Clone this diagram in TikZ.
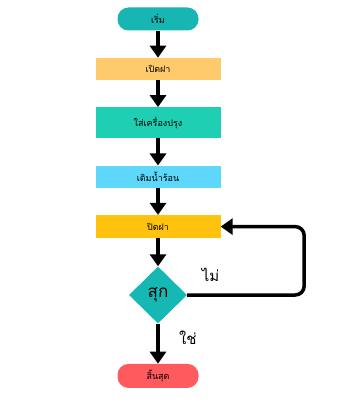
\documentclass[tikz,border=0pt]{standalone}
\usepackage{fontspec}
\newfontfamily\thaifont[Script=Thai]{Loma}
\usepackage{xcolor}
\usetikzlibrary{positioning,arrows.meta,shapes.geometric}

\definecolor{startc}{HTML}{17B6B3}
\definecolor{openc}{HTML}{FFCA6C}
\definecolor{seasonc}{HTML}{1ECFB3}
\definecolor{waterc}{HTML}{5DD7FA}
\definecolor{closec}{HTML}{FFC20E}
\definecolor{checkc}{HTML}{16B8B4}
\definecolor{endc}{HTML}{FF5B5E}

\begin{document}
\begin{tikzpicture}[
    x=1pt, y=-1pt,
    node distance=27pt,
    box/.style={draw=none, minimum width=125pt, minimum height=22pt,
                align=center, font=\thaifont\fontsize{9}{11}\selectfont},
    pill/.style={box, rounded corners=11pt, minimum width=81pt, minimum height=23pt},
    decide/.style={diamond, draw=none, inner sep=0pt, minimum width=58pt,
                   minimum height=57pt, font=\thaifont\fontsize{17}{19}\selectfont},
    arr/.style={-{Triangle[width=16pt,length=12pt]}, line width=3.5pt},
    lbl/.style={font=\thaifont\fontsize{15}{17}\selectfont},
  ]
  \useasboundingbox (0,0) rectangle (354,403);

  \node[pill, fill=startc] at (158,19) (start) {เริ่ม};
  \node[box, fill=openc,   below=of start]  (open)   {เปิดฝา};
  \node[box, fill=seasonc, below=of open, minimum height=31pt] (season) {ใส่เครื่องปรุง};
  \node[box, fill=waterc,  below=of season] (water)  {เติมน้ำร้อน};
  \node[box, fill=closec,  below=of water, minimum height=23pt] (lid) {ปิดฝา};
  \node[decide, fill=checkc, below=28pt of lid] (done) {สุก};
  \node[pill, fill=endc,   below=40pt of done, minimum height=24pt] (stop) {สิ้นสุด};

  \draw[arr] (start) -- (open);
  \draw[arr] (open)  -- (season);
  \draw[arr] (season) -- (water);
  \draw[arr] (water) -- (lid);
  \draw[arr] (lid)   -- (done);
  \draw[arr, rounded corners=9pt] (done.east) -- node[lbl, pos=0.2, above=8pt] {ไม่}
                                  ++(117,0) |- (lid.east);
  \draw[arr] (done)  -- node[lbl, pos=0.35, right=16pt] {ใช่} (stop);
\end{tikzpicture}
\end{document}
